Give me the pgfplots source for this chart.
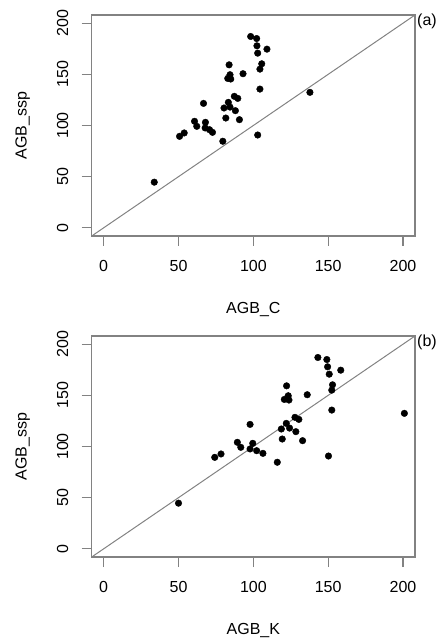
\documentclass[border=0pt]{standalone}
\usepackage{fontspec}
\setmainfont{Liberation Sans}
\usepackage{pgfplots}
\usepackage{pgfplotstable}
\pgfplotsset{compat=1.18}

% AGB_C, AGB_K, AGB_ssp
\pgfplotstableread{
c      k      ssp
33.8   50.0   44.6
50.7   74.2   89.4
53.8   78.4   92.7
60.7   89.3   104.1
62.2   91.6   99.2
66.7   97.8   121.6
68.0   99.6   103.1
67.8   97.8   97.6
70.7   102.2  95.9
72.7   106.4  93.3
79.6   116.0  84.6
81.6   119.3  107.3
80.4   118.7  117.1
83.3   122.0  122.6
84.4   124.2  118.0
88.0   128.4  114.5
87.3   127.8  128.5
89.6   130.4  126.5
90.7   132.9  105.7
83.8   122.2  159.3
84.4   123.3  149.6
82.9   120.7  146.0
84.9   123.8  145.4
93.1   136.0  150.6
98.2   143.1  187.0
102.2  149.1  185.0
102.4  149.6  177.9
102.9  150.7  170.7
109.1  158.4  174.6
105.6  152.9  160.3
104.4  152.4  155.1
104.4  152.4  135.6
102.9  150.2  90.7
137.8  200.9  132.4
}\agbdata

\definecolor{framegray}{RGB}{130,130,130}

\pgfplotsset{
  rpanel/.style={
    scale only axis,
    width=323.3bp, height=221bp,
    anchor=south west,
    xmin=-8, xmax=208, ymin=-8, ymax=208,
    xtick={0,50,100,150,200},
    ytick={0,50,100,150,200},
    tick align=outside,
    tick pos=left,
    major tick length=10bp,
    axis line style={framegray, line width=1.1bp},
    every tick/.style={framegray, line width=1.1bp},
    /pgf/number format/assume math mode=true,
    ticklabel style={font=\fontsize{16bp}{19bp}\selectfont},
    label style={font=\fontsize{16bp}{19bp}\selectfont},
    xticklabel style={yshift=-11bp},
    yticklabel style={rotate=90, anchor=south, yshift=10bp},
    xlabel style={yshift=-24bp},
    ylabel style={yshift=20bp},
    ylabel={AGB\_ssp},
    clip=false,
  },
  rdots/.style={only marks, mark=*, mark size=3.3bp, mark options={black, fill=black}},
}

\begin{document}
\begin{tikzpicture}
\useasboundingbox (0,0) rectangle (437bp,642bp);

\begin{axis}[rpanel, at={(91.7bp,406bp)}, xlabel={AGB\_C}]
  \addplot[framegray, line width=1bp] coordinates {(-8,-8) (208,208)};
  \addplot[rdots] table[x=c, y=ssp] {\agbdata};
  \node[anchor=west, inner sep=0pt, font=\fontsize{16bp}{19bp}\selectfont]
    at (rel axis cs:1,1) [xshift=2bp, yshift=-6bp] {(a)};
\end{axis}

\begin{axis}[rpanel, at={(91.7bp,85bp)}, xlabel={AGB\_K}]
  \addplot[framegray, line width=1bp] coordinates {(-8,-8) (208,208)};
  \addplot[rdots] table[x=k, y=ssp] {\agbdata};
  \node[anchor=west, inner sep=0pt, font=\fontsize{16bp}{19bp}\selectfont]
    at (rel axis cs:1,1) [xshift=2bp, yshift=-6bp] {(b)};
\end{axis}
\end{tikzpicture}
\end{document}
